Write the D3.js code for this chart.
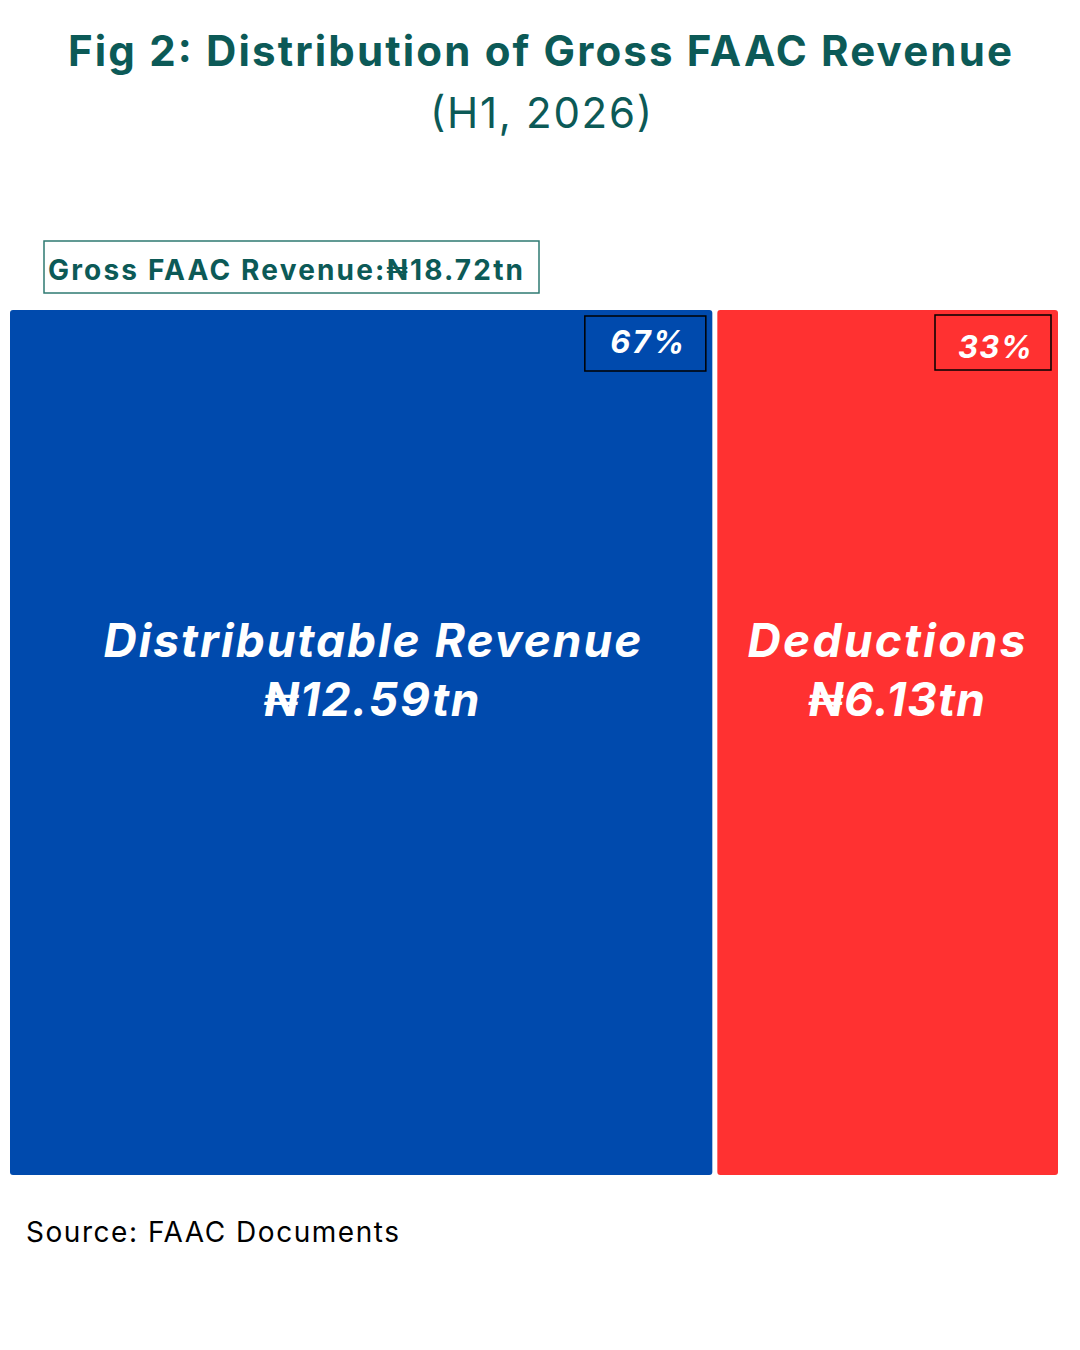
<!DOCTYPE html>
<html>
<head>
<meta charset="utf-8">
<script src="https://cdn.jsdelivr.net/npm/d3@7"></script>
<style>
  body { margin: 0; background: #fff; }
  svg { display: block; font-family: Inter, "Noto Sans", "DejaVu Sans", sans-serif; }
</style>
</head>
<body>
<svg id="chart" width="1080" height="1350"></svg>
<script>
// data
const categories = ["Distributable Revenue", "Deductions"];
const values = [12.59, 6.13];
const shareLabels = ["67%", "33%"];
const valueLabels = ["₦12.59tn", "₦6.13tn"];
const colors = ["#004aad", "#ff3131"];
const totalLabel = "Gross FAAC Revenue:₦18.72tn";

const svg = d3.select("#chart");
const teal = "#0c5a57";

// title (widths stretched to the reference font's wider set)
svg.append("text")
    .attr("x", 540).attr("y", 66)
    .attr("text-anchor", "middle")
    .attr("font-size", "42px").attr("font-weight", 700)
    .attr("fill", teal)
    .attr("textLength", 944).attr("lengthAdjust", "spacing")
    .text("Fig 2: Distribution of Gross FAAC Revenue");
svg.append("text")
    .attr("x", 541).attr("y", 128)
    .attr("text-anchor", "middle")
    .attr("font-size", "42px")
    .attr("fill", teal)
    .attr("textLength", 222).attr("lengthAdjust", "spacing")
    .text("(H1, 2026)");

// layout of the stacked rectangles
const plotLeft = 10, plotRight = 1058, plotTop = 310, plotBottom = 1175, gap = 5;
let acc = 0;
const blocks = values.map((v, i) => {
    const b = {name: categories[i], value: v, start: acc, end: acc + v, i: i};
    acc += v;
    return b;
});
const x = d3.scaleLinear().domain([0, d3.sum(values)]).range([plotLeft, plotRight]);
const y = d3.scaleLinear().domain([0, 1]).range([plotBottom, plotTop]);

const g = svg.append("g");
g.selectAll("rect.block")
    .data(blocks)
    .enter()
    .append("rect")
    .attr("class", "block")
    .attr("x", d => x(d.start) + (d.i > 0 ? gap / 2 : 0))
    .attr("y", y(1))
    .attr("width", d => x(d.end) - x(d.start) - gap / 2)
    .attr("height", y(0) - y(1))
    .attr("rx", 3)
    .attr("fill", d => colors[d.i]);

// category + value labels
const labelShift = [10, 0];
const valueShift = [9, 10];
const catLen = [538, 278];
const valLen = [216, 177];
g.selectAll("text.cat")
    .data(blocks)
    .enter()
    .append("text")
    .attr("class", "cat")
    .attr("x", d => (x(d.start) + x(d.end)) / 2 + labelShift[d.i])
    .attr("y", 657)
    .attr("text-anchor", "middle")
    .attr("font-size", "46px").attr("font-weight", 700).attr("font-style", "italic")
    .attr("fill", "#fff")
    .attr("textLength", d => catLen[d.i]).attr("lengthAdjust", "spacing")
    .text(d => d.name);
g.selectAll("text.val")
    .data(blocks)
    .enter()
    .append("text")
    .attr("class", "val")
    .attr("x", d => (x(d.start) + x(d.end)) / 2 + valueShift[d.i])
    .attr("y", 716)
    .attr("text-anchor", "middle")
    .attr("font-size", "46px").attr("font-weight", 700).attr("font-style", "italic")
    .attr("fill", "#fff")
    .attr("textLength", d => valLen[d.i]).attr("lengthAdjust", "spacing")
    .text(d => valueLabels[d.i]);

// percentage boxes at top right of each block
const pctW = [121, 116], pctH = 55;
const pct = g.selectAll("g.pct")
    .data(blocks)
    .enter()
    .append("g")
    .attr("class", "pct")
    .attr("transform", d => `translate(${x(d.end) - pctW[d.i] - (d.i === 0 ? 9 : 7)},${y(1) + 6 - d.i})`);
pct.append("rect")
    .attr("width", d => pctW[d.i]).attr("height", pctH)
    .attr("fill", "none").attr("stroke", "#000").attr("stroke-width", 1.5);
pct.append("text")
    .attr("x", d => pctW[d.i] / 2 + 2)
    .attr("y", d => d.i === 0 ? 37 : 43)
    .attr("text-anchor", "middle")
    .attr("font-size", "31px").attr("font-weight", 700).attr("font-style", "italic")
    .attr("fill", "#fff")
    .attr("textLength", 74).attr("lengthAdjust", "spacing")
    .text(d => shareLabels[d.i]);

// total label box
const totalG = svg.append("g").attr("transform", "translate(44,241)");
totalG.append("rect")
    .attr("width", 495).attr("height", 52)
    .attr("fill", "none").attr("stroke", "#2e7a72").attr("stroke-width", 1.5);
totalG.append("text")
    .attr("x", 4).attr("y", 39)
    .attr("font-size", "28px").attr("font-weight", 700)
    .attr("fill", teal)
    .attr("textLength", 475).attr("lengthAdjust", "spacing")
    .text(totalLabel);

// source
svg.append("text")
    .attr("x", 26).attr("y", 1242)
    .attr("font-size", "28px")
    .attr("fill", "#000")
    .attr("textLength", 373).attr("lengthAdjust", "spacing")
    .text("Source: FAAC Documents");
</script>
</body>
</html>
